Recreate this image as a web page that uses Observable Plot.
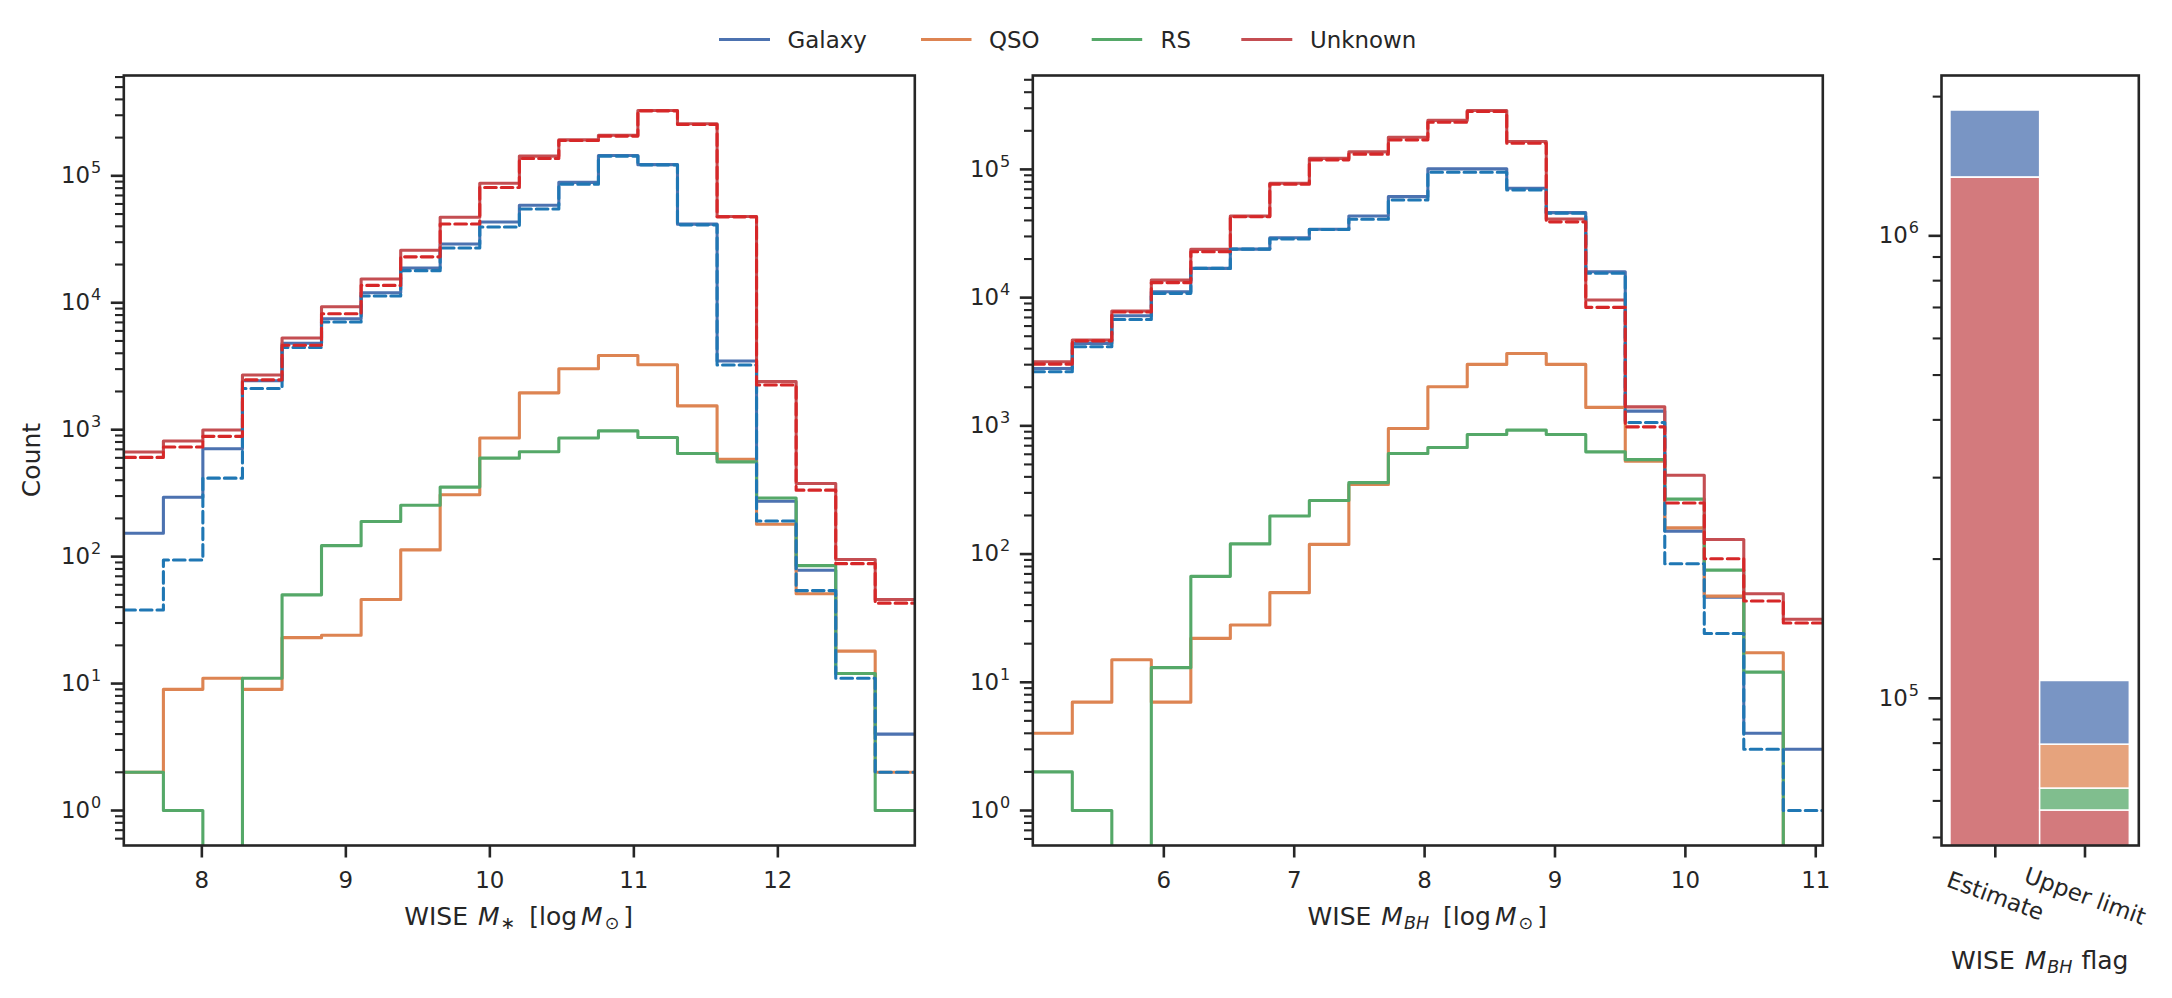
<!DOCTYPE html>
<html>
<head>
<meta charset="utf-8">
<script src="https://cdn.jsdelivr.net/npm/d3@7"></script>
<script src="https://cdn.jsdelivr.net/npm/@observablehq/plot@0.6"></script>
<style>
  body { margin: 0; background: #fff; }
  #fig { position: relative; width: 2172px; height: 998px; overflow: hidden; font-family: "DejaVu Sans", sans-serif; background: #fff; }
  #fig svg { position: absolute; top: 0; }
</style>
</head>
<body>
<div id="fig"></div>
<script>
// ---------------- DATA ----------------
const seriesNames = ["Galaxy", "QSO", "RS", "Unknown"];

// bin edges (20 bins) of the two histograms
const edgesMstar = [7.458, 7.733, 8.007, 8.282, 8.557, 8.831, 9.106, 9.381, 9.655, 9.930, 10.205,
                    10.479, 10.754, 11.028, 11.303, 11.578, 11.852, 12.127, 12.402, 12.676, 12.951];
const edgesMbh   = [4.995, 5.298, 5.601, 5.904, 6.207, 6.510, 6.813, 7.116, 7.419, 7.722, 8.025,
                    8.327, 8.630, 8.933, 9.236, 9.539, 9.842, 10.145, 10.448, 10.751, 11.054];

// Stellar-mass histogram counts (solid = all, dashed = estimates)
const galaxyMstar     = [153, 294, 708, 2430, 4800, 7480, 12000, 18800, 29000, 43300, 58700, 88800, 144500, 122500, 41600, 3475, 273, 78, 12, 4];
const qsoMstar        = [2, 9, 11, 9, 23, 24, 46, 113, 307, 860, 1950, 3020, 3840, 3250, 1540, 585, 180, 51, 18, 2];
const rsMstar         = [2, 1, 0, 11, 50, 122, 189, 254, 353, 597, 670, 860, 978, 868, 650, 558, 290, 85, 12, 1];
const unknownMstar    = [667, 815, 995, 2700, 5280, 9310, 15400, 25900, 47100, 87300, 143000, 192000, 209000, 327000, 257000, 47800, 2390, 377, 95, 46];
const galaxyEstMstar  = [38, 94, 415, 2110, 4440, 7050, 11300, 17900, 27000, 39500, 54700, 86000, 143000, 122000, 41100, 3230, 191, 54, 11, 2];
const unknownEstMstar = [605, 730, 886, 2470, 4620, 8200, 13700, 23000, 41700, 81000, 137000, 190000, 205500, 325000, 254000, 47500, 2250, 334, 88, 43];

// Black-hole-mass histogram counts
const galaxyMbh     = [2800, 4400, 7220, 11100, 16900, 23900, 29300, 34100, 43300, 61300, 101000, 101000, 71300, 46000, 15900, 1303, 151, 46, 4, 3];
const qsoMbh        = [4, 7, 15, 7, 22, 28, 50, 119, 349, 954, 2020, 3015, 3670, 3015, 1392, 530, 160, 47, 17, 0];
const rsMbh         = [2, 1, 0, 13, 67, 120, 198, 262, 361, 609, 678, 857, 926, 857, 627, 545, 268, 75, 12, 0];
const unknownMbh    = [3160, 4670, 7860, 13700, 23800, 43300, 78000, 122000, 137000, 178000, 241000, 288000, 165000, 41000, 9580, 1407, 412, 130, 49, 31];
const galaxyEstMbh  = [2640, 4140, 6760, 10800, 16900, 23900, 28700, 34000, 40800, 57800, 95000, 95000, 69200, 45500, 15500, 1063, 84, 24, 3, 1];
const unknownEstMbh = [3030, 4600, 7720, 13100, 22800, 42700, 76600, 118700, 131500, 170000, 233500, 283000, 160000, 39000, 8400, 982, 250, 92, 43, 29];

// WISE M_BH flag stacked counts
const flagLabels  = ["Estimate", "Upper limit"];
const galaxyFlag  = [529000, 29600];
const qsoFlag     = [500, 15600];
const rsFlag      = [0, 6600];
const unknownFlag = [1337000, 57200];

const xTicksMstar = [8, 9, 10, 11, 12];
const xTicksMbh = [6, 7, 8, 9, 10, 11];

// ---------------- STYLE ----------------
const colors = {Galaxy: "#4c72b0", QSO: "#dd8452", RS: "#55a868", Unknown: "#c44e52"};
const dashColors = {Galaxy: "#1f77b4", Unknown: "#d62728"};
const INK = "#262626";
const TICK_FS = 22.9, LABEL_FS = 25, LW = 3.1;
const FONT = "DejaVu Sans";
const fig = document.getElementById("fig");

const fmtPow = v => "10^" + Math.round(Math.log10(v));

function logTicks([lo, hi]) {
  const majors = [], minors = [];
  for (let e = Math.floor(Math.log10(lo)); e <= Math.ceil(Math.log10(hi)); e++) {
    for (let m = 1; m < 10; m++) {
      const v = m * Math.pow(10, e);
      if (v < lo || v > hi) continue;
      (m === 1 ? majors : minors).push(v);
    }
  }
  return {majors, minors};
}

function logDomain(values) {
  const pos = values.filter(v => v > 0);
  const lmin = Math.log10(d3.min(pos)), lmax = Math.log10(d3.max(pos));
  const m = 0.05 * (lmax - lmin);
  return [Math.pow(10, lmin - m), Math.pow(10, lmax + m)];
}

function steps(edges, counts) {
  const pts = counts.map((c, i) => ({x: edges[i], y: c > 0 ? c : 1e-3}));
  const last = counts[counts.length - 1];
  pts.push({x: edges[edges.length - 1], y: last > 0 ? last : 1e-3});
  return pts;
}

// turn "10^k" tick texts into 10 with a raised, smaller exponent
function superscripts(svg) {
  d3.select(svg).selectAll("text").each(function () {
    const s = this.textContent;
    const m = /^10\^(-?\d+)$/.exec(s);
    if (!m) return;
    const el = d3.select(this);
    el.selectAll("*").remove();
    el.text(null);
    el.append("tspan").text("10");
    el.append("tspan").attr("font-size", TICK_FS * 0.7).attr("dy", -10).attr("dx", 1).text(m[1]);
  });
}

const plotStyle = {fontFamily: FONT, fontSize: TICK_FS + "px", color: INK, background: "transparent", overflow: "visible", maxWidth: "none"};

function yAxes(domain) {
  const {majors, minors} = logTicks(domain);
  return [
    Plot.axisY({ticks: minors, tickSize: 8.3, strokeWidth: 2.1, tickFormat: () => "", color: INK, label: null}),
    Plot.axisY({ticks: majors, tickSize: 12.5, strokeWidth: 2.6, tickPadding: 10, tickFormat: fmtPow, color: INK, label: null, fontSize: TICK_FS})
  ];
}

function histPanel({edges, solid, dashed, xTicks, left, width, mLeft, mRight}) {
  const all = [...Object.values(solid), ...Object.values(dashed)].flat();
  const domain = logDomain(all);
  const marks = [];
  for (const name of seriesNames) {
    marks.push(Plot.line(steps(edges, solid[name]), {x: "x", y: "y", curve: "step-after", stroke: colors[name], strokeWidth: LW, clip: true}));
  }
  for (const name of Object.keys(dashed)) {
    marks.push(Plot.line(steps(edges, dashed[name]), {x: "x", y: "y", curve: "step-after", stroke: dashColors[name], strokeWidth: LW, strokeDasharray: "11.6,5", clip: true}));
  }
  marks.push(...yAxes(domain));
  marks.push(Plot.axisX({ticks: xTicks, tickSize: 12.5, strokeWidth: 2.6, tickPadding: 14, tickFormat: d => String(d), color: INK, label: null, fontSize: TICK_FS}));
  marks.push(Plot.frame({stroke: INK, strokeWidth: 2.6}));
  const svg = Plot.plot({
    width, height: 998, marginLeft: mLeft, marginRight: mRight, marginTop: 75, marginBottom: 153,
    x: {domain: [edges[0], edges[edges.length - 1]]},
    y: {type: "log", domain},
    style: plotStyle,
    marks
  });
  svg.style.left = left + "px";
  superscripts(svg);
  fig.appendChild(svg);
  return svg;
}

function mathLabel(svg, x, y, parts, rotate) {
  const t = d3.select(svg).append("text")
    .attr("x", x).attr("y", y)
    .attr("text-anchor", "middle")
    .attr("font-family", FONT)
    .attr("font-size", LABEL_FS)
    .attr("fill", INK);
  if (rotate) t.attr("transform", `rotate(${rotate} ${x} ${y})`);
  let shifted = 0;
  for (const p of parts) {
    const s = t.append("tspan").text(p.t);
    if (p.it) s.attr("font-style", "italic");
    let dy = 0;
    if (p.sub) { s.attr("font-size", LABEL_FS * 0.7); dy = 4 - shifted; shifted = 4; }
    else { dy = -shifted; shifted = 0; }
    if (dy) s.attr("dy", dy);
    if (p.dx) s.attr("dx", p.dx);
  }
  return t;
}

// ---------------- PANEL 1 ----------------
const p1 = histPanel({
  edges: edgesMstar,
  solid: {Galaxy: galaxyMstar, QSO: qsoMstar, RS: rsMstar, Unknown: unknownMstar},
  dashed: {Galaxy: galaxyEstMstar, Unknown: unknownEstMstar},
  xTicks: xTicksMstar, left: 0, width: 935, mLeft: 123.3, mRight: 20.7
});
mathLabel(p1, 518.7, 925, [
  {t: "WISE "}, {t: "M", it: true, dx: 2}, {t: "\u2217", sub: true, dx: 1},
  {t: "[log", dx: 14}, {t: "M", it: true, dx: 4}, {t: "\u2299", sub: true, dx: 2}, {t: "]", dx: 4}
]);
mathLabel(p1, 40, 460, [{t: "Count"}], -90);

// ---------------- PANEL 2 ----------------
const p2 = histPanel({
  edges: edgesMbh,
  solid: {Galaxy: galaxyMbh, QSO: qsoMbh, RS: rsMbh, Unknown: unknownMbh},
  dashed: {Galaxy: galaxyEstMbh, Unknown: unknownEstMbh},
  xTicks: xTicksMbh, left: 940, width: 900, mLeft: 92.3, mRight: 17.7
});
mathLabel(p2, 487.3, 925, [
  {t: "WISE "}, {t: "M", it: true, dx: 2}, {t: "BH", it: true, sub: true, dx: 1},
  {t: "[log", dx: 14}, {t: "M", it: true, dx: 4}, {t: "\u2299", sub: true, dx: 2}, {t: "]", dx: 4}
]);

// ---------------- PANEL 3 ----------------
const flagCounts = {Galaxy: galaxyFlag, QSO: qsoFlag, RS: rsFlag, Unknown: unknownFlag};
const stackOrder = ["Unknown", "RS", "QSO", "Galaxy"]; // bottom to top
const rects = [];
flagLabels.forEach((f, i) => {
  let base = 0;
  for (const n of stackOrder) {
    const v = flagCounts[n][i];
    if (v > 0) rects.push({x1: i - 0.5, x2: i + 0.5, y1: base > 0 ? base : 1, y2: base + v, name: n});
    base += v;
  }
});
const flagDomain = logDomain(rects.map(r => r.y2));
const p3 = Plot.plot({
  width: 322, height: 998, marginLeft: 91, marginRight: 33.7, marginTop: 75, marginBottom: 153,
  x: {type: "linear", domain: [-0.6, 1.6]},
  y: {type: "log", domain: flagDomain},
  color: {type: "identity"},
  style: plotStyle,
  marks: [
    Plot.rect(rects, {x1: "x1", x2: "x2", y1: "y1", y2: "y2", fill: d => colors[d.name], fillOpacity: 0.75, stroke: "white", strokeWidth: 1.5, clip: true}),
    ...yAxes(flagDomain),
    Plot.axisX({ticks: [0, 1], tickSize: 12.5, strokeWidth: 2.6, tickFormat: () => "", color: INK, label: null}),
    Plot.text(flagLabels.map((f, i) => ({x: i, label: f})), {x: "x", text: "label", frameAnchor: "bottom", dy: 51, rotate: 20, textAnchor: "middle", lineAnchor: "middle", fontSize: TICK_FS, fill: INK}),
    Plot.frame({stroke: INK, strokeWidth: 2.6})
  ]
});
p3.style.left = "1850px";
superscripts(p3);
fig.appendChild(p3);
mathLabel(p3, 189.7, 969, [
  {t: "WISE "}, {t: "M", it: true, dx: 2}, {t: "BH", it: true, sub: true, dx: 1}, {t: "flag", dx: 9}
]);

// ---------------- LEGEND ----------------
const legendPos = [
  {name: "Galaxy", x1: 719, x2: 770, tx: 787.6},
  {name: "QSO", x1: 921, x2: 971.5, tx: 989},
  {name: "RS", x1: 1091.7, x2: 1142.2, tx: 1160.5},
  {name: "Unknown", x1: 1241.3, x2: 1292.3, tx: 1310}
];
const leg = d3.select(fig).append("svg").attr("width", 2172).attr("height", 70).style("left", "0px").style("top", "0px");
for (const p of legendPos) {
  leg.append("line").attr("x1", p.x1).attr("x2", p.x2).attr("y1", 39.5).attr("y2", 39.5)
    .attr("stroke", colors[p.name]).attr("stroke-width", LW);
  leg.append("text").attr("x", p.tx).attr("y", 48.3).attr("font-family", FONT).attr("font-size", TICK_FS).attr("fill", INK).text(p.name);
}
</script>
</body>
</html>
